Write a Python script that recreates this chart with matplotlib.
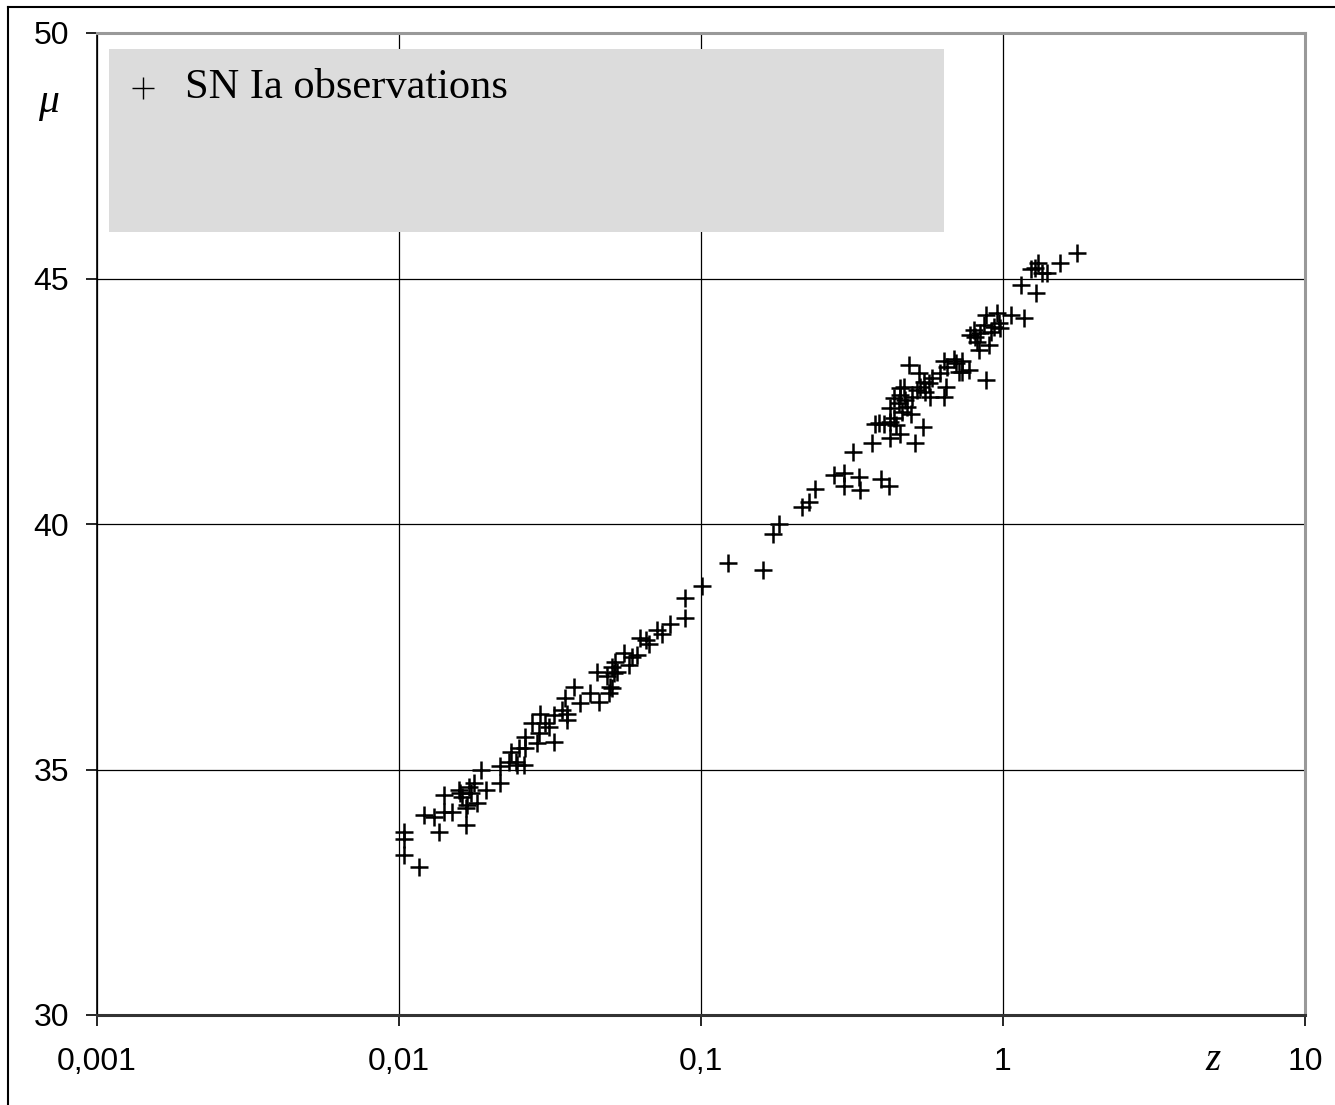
import numpy as np
import matplotlib.pyplot as plt
from matplotlib.patches import Rectangle
from matplotlib.ticker import FixedLocator, FixedFormatter, NullLocator

# redshift z and distance modulus mu of the supernovae
z = [0.01037, 0.01037, 0.01037, 0.01163, 0.01208, 0.01303, 0.01354, 0.01407, 0.01407, 0.01500,
     0.01578, 0.01598, 0.01619, 0.01661, 0.01661, 0.01682, 0.01703, 0.01725, 0.01769, 0.01815,
     0.01862, 0.01934, 0.02168, 0.02168, 0.02310, 0.02340, 0.02431, 0.02493, 0.02462, 0.02588,
     0.02623, 0.02623, 0.02761, 0.02868, 0.02903, 0.02941, 0.03055, 0.03133, 0.03255, 0.03255,
     0.03470, 0.03558, 0.03605, 0.03605, 0.03792, 0.03990, 0.04306, 0.04589, 0.04951, 0.05015,
     0.04508, 0.04891, 0.05081, 0.05143, 0.05210, 0.05278, 0.05081, 0.05551, 0.05766, 0.05918,
     0.06146, 0.06302, 0.06550, 0.06718, 0.07161, 0.07438, 0.07925, 0.08819, 0.08819, 0.1009,
     0.1233, 0.1602, 0.1729, 0.1810, 0.2163, 0.2275, 0.2381, 0.2753, 0.2986, 0.2986,
     0.3182, 0.3331, 0.3374, 0.3688, 0.3930, 0.4185, 0.4241, 0.4577, 0.5093, 0.5425,
     0.3782, 0.3878, 0.4030, 0.4241, 0.4348, 0.4406, 0.4241, 0.4348, 0.4518, 0.4577,
     0.4636, 0.4755, 0.4817, 0.4940, 0.4876, 0.4577, 0.4693, 0.5004, 0.5199, 0.5263,
     0.5331, 0.5466, 0.5679, 0.5753, 0.5828, 0.5538, 0.6209, 0.6368, 0.6451, 0.6368,
     0.6535, 0.6873, 0.6963, 0.7141, 0.7328, 0.7328, 0.7704, 0.8752, 0.7793, 0.7991,
     0.8097, 0.8202, 0.8410, 0.8626, 0.8752, 0.8303, 0.8975, 0.9092, 0.9322, 0.9566,
     0.9683, 0.9810, 1.059, 1.172, 1.143, 1.291, 1.240, 1.281, 1.304, 1.349,
     1.401, 1.542, 1.752]
mu = [33.73, 33.58, 33.26, 33.01, 34.07, 34.04, 33.73, 34.48, 34.14, 34.14,
      34.58, 34.52, 34.45, 34.21, 33.87, 34.28, 34.65, 34.52, 34.72, 34.31,
      35.00, 34.58, 35.07, 34.72, 35.16, 35.36, 35.16, 35.43, 35.09, 35.09,
      35.67, 35.43, 35.94, 35.53, 35.74, 36.14, 35.94, 35.87, 36.11, 35.57,
      36.21, 36.45, 36.14, 36.01, 36.69, 36.36, 36.55, 36.38, 36.55, 36.69,
      36.99, 36.90, 37.09, 36.96, 37.18, 36.99, 36.65, 37.37, 37.13, 37.30,
      37.33, 37.68, 37.64, 37.56, 37.84, 37.75, 37.96, 38.49, 38.08, 38.74,
      39.20, 39.06, 39.80, 40.01, 40.34, 40.45, 40.71, 41.00, 41.04, 40.77,
      41.47, 40.96, 40.69, 41.64, 40.91, 40.77, 41.75, 41.83, 41.64, 41.97,
      42.04, 42.06, 42.04, 42.08, 42.15, 42.02, 42.36, 42.56, 42.46, 42.63,
      42.29, 42.53, 42.39, 42.25, 43.24, 42.76, 42.80, 42.59, 42.73, 43.07,
      42.80, 42.90, 42.87, 42.59, 42.97, 42.69, 43.08, 43.31, 42.80, 42.59,
      43.20, 43.37, 43.27, 43.10, 43.31, 43.10, 43.14, 42.93, 43.85, 43.95,
      43.81, 43.71, 43.88, 44.05, 44.26, 43.54, 43.65, 43.92, 44.02, 44.29,
      44.09, 43.99, 44.26, 44.19, 44.87, 44.70, 45.19, 45.21, 45.31, 45.11,
      45.11, 45.31, 45.51]

xticks = [0.001, 0.01, 0.1, 1, 10]
xlabels = ['0,001', '0,01', '0,1', '1', '10']
yticks = [30, 35, 40, 45, 50]

fig = plt.figure(figsize=(13.35, 11.05), dpi=100)
ax = fig.add_axes([97/1335, 1 - 1015/1105, 1208/1335, 982/1105])

ax.set_xscale('log')
ax.set_xlim(0.001, 10)
ax.set_ylim(30, 50)

ax.scatter(z, mu, marker='+', s=170, c='black', linewidths=1.8, zorder=3)

ax.xaxis.set_major_locator(FixedLocator(xticks))
ax.xaxis.set_major_formatter(FixedFormatter(xlabels))
ax.xaxis.set_minor_locator(NullLocator())
ax.set_yticks(yticks)
ax.tick_params(axis='both', direction='out', length=8, width=1.2, color='black',
               labelsize=23, labelcolor='black')
ax.tick_params(axis='x', pad=15)
ax.tick_params(axis='y', pad=12)
for lab in ax.get_xticklabels() + ax.get_yticklabels():
    lab.set_family('Liberation Sans')

ax.grid(True, color='black', linewidth=0.9, zorder=1)
ax.set_axisbelow(True)

for side in ['top', 'right']:
    ax.spines[side].set_color('#999999')
    ax.spines[side].set_linewidth(2.2)
ax.spines['left'].set_color('black')
ax.spines['left'].set_linewidth(1.2)
ax.spines['bottom'].set_color('#333333')
ax.spines['bottom'].set_linewidth(2.2)

# legend panel
ax.add_patch(Rectangle((0.0099, 0.7974), 0.691, 0.1864, transform=ax.transAxes,
                       facecolor='#dcdcdc', edgecolor='none', zorder=4))
ax.plot([0.038], [0.944], transform=ax.transAxes, marker='+', color='black',
        markersize=16, markeredgewidth=1.0, linestyle='none', zorder=5)
ax.text(0.0728, 0.944, 'SN Ia observations', transform=ax.transAxes,
        family='Liberation Serif', fontsize=30.5, va='center', ha='left', zorder=5)

fig.text(48/1335, 1 - 102/1105, 'μ', family='Liberation Serif', style='italic',
         fontsize=30, ha='center', va='center')
fig.text(1213/1335, 1 - 1060/1105, 'z', family='Liberation Serif', style='italic',
         fontsize=28, ha='center', va='center')

# outer frame lines
fig.add_artist(plt.Line2D([8/1335, 8/1335], [0, 1 - 7/1105], transform=fig.transFigure,
                          color='black', linewidth=1.5))
fig.add_artist(plt.Line2D([8/1335, 1], [1 - 7/1105, 1 - 7/1105], transform=fig.transFigure,
                          color='black', linewidth=1.5))

fig.savefig('out.png', dpi=100)
